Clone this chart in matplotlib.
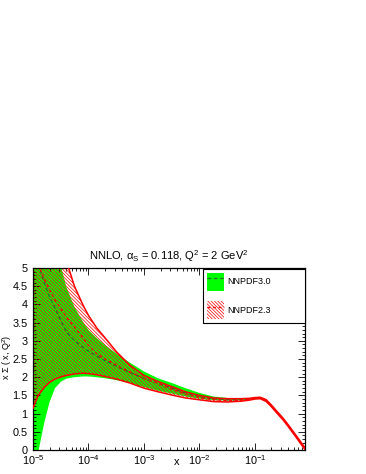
import matplotlib
matplotlib.use("Agg")
import matplotlib.pyplot as plt
from matplotlib.patches import Patch
from matplotlib.lines import Line2D
from matplotlib.ticker import LogLocator, MultipleLocator, LogFormatterSciNotation, NullFormatter

plt.rcParams['font.family'] = ['Liberation Sans', 'DejaVu Sans']
plt.rcParams['mathtext.fontset'] = 'custom'
plt.rcParams['mathtext.rm'] = 'Liberation Sans'
plt.rcParams['mathtext.it'] = 'Liberation Sans:italic'
plt.rcParams['mathtext.bf'] = 'Liberation Sans:bold'
plt.rcParams['hatch.linewidth'] = 0.5
plt.rcParams['hatch.color'] = '#ff0000'

# ---- data ----
x = [1e-5, 1.25e-5, 1.6e-5, 2e-5, 2.5e-5, 3.2e-5, 4e-5, 5.6e-5, 8e-5, 1e-4,
     1.4e-4, 2e-4, 3.2e-4, 5.6e-4, 1e-3, 1.8e-3, 3.2e-3, 5.6e-3, 1e-2, 1.8e-2,
     3.2e-2, 5.6e-2, 8e-2, 0.1, 0.125, 0.16, 0.2, 0.25, 0.32, 0.4, 0.5, 0.63, 0.8]

nn30_hi = [9.5, 8.4, 7.4, 6.5, 5.7, 5.05, 4.48, 3.93, 3.52, 3.30, 3.08, 2.88, 2.65, 2.40,
           2.16, 1.97, 1.84, 1.70, 1.57, 1.47, 1.43, 1.41, 1.42, 1.44, 1.45, 1.38, 1.23,
           1.06, 0.88, 0.69, 0.49, 0.28, 0.06]
nn30_c = [5.6, 5.1, 4.6, 4.2, 3.9, 3.55, 3.25, 3.0, 2.82, 2.72, 2.58, 2.45, 2.30, 2.13,
          1.97, 1.83, 1.70, 1.57, 1.47, 1.41, 1.38, 1.38, 1.40, 1.42, 1.43, 1.36, 1.21,
          1.04, 0.86, 0.67, 0.47, 0.26, 0.04]
nn30_lo = [-0.6, -0.05, 0.75, 1.32, 1.70, 1.88, 1.96, 2.00, 2.02, 2.02, 2.00, 1.97, 1.92,
           1.84, 1.73, 1.63, 1.55, 1.47, 1.41, 1.37, 1.36, 1.37, 1.38, 1.40, 1.41, 1.34,
           1.19, 1.02, 0.84, 0.65, 0.45, 0.24, 0.02]

nn23_hi = [11.5, 10.2, 9.0, 7.9, 6.9, 5.9, 5.2, 4.50, 3.98, 3.70, 3.36, 3.08, 2.70, 2.33,
           2.05, 1.88, 1.74, 1.60, 1.50, 1.43, 1.41, 1.41, 1.42, 1.44, 1.45, 1.385, 1.235,
           1.065, 0.885, 0.695, 0.495, 0.285, 0.065]
nn23_c = [5.7, 5.1, 4.7, 4.4, 4.12, 3.88, 3.65, 3.38, 3.08, 2.88, 2.65, 2.50, 2.33, 2.14,
          1.97, 1.83, 1.67, 1.54, 1.44, 1.38, 1.36, 1.37, 1.39, 1.42, 1.43, 1.36, 1.21,
          1.04, 0.86, 0.67, 0.47, 0.26, 0.04]
nn23_lo = [1.15, 1.50, 1.72, 1.86, 1.95, 2.01, 2.05, 2.09, 2.11, 2.10, 2.07, 2.02, 1.95,
           1.84, 1.70, 1.60, 1.51, 1.43, 1.38, 1.33, 1.32, 1.34, 1.37, 1.40, 1.41, 1.335,
           1.185, 1.015, 0.835, 0.645, 0.445, 0.235, 0.015]

labels = ["NNPDF3.0", "NNPDF2.3"]
title = r"NNLO, α$_\mathregular{S}$ = 0.118, Q$^\mathregular{2}$ = 2 GeV$^\mathregular{2}$"
xlabel = "x"
ylabel = r"x Σ ( x, Q$^\mathregular{2}$)"

GREEN = "#00ff00"
DKGREEN = "#2a6e2a"
RED = "#ff0000"
HATCH = '\\' * 10

fig = plt.figure(figsize=(3.66, 4.74), dpi=100)
ax = fig.add_axes([0.090, 0.0506, 0.743, 0.384])

ax.fill_between(x, nn30_lo, nn30_hi, facecolor=GREEN, edgecolor='none', zorder=1)
ax.fill_between(x, nn23_lo, nn23_hi, facecolor='none', edgecolor=RED, hatch=HATCH,
                linewidth=0, zorder=2)
ax.plot(x, nn30_c, color=DKGREEN, ls=(0, (3, 2)), lw=0.9, zorder=3)
ax.plot(x, nn23_hi, color=RED, lw=1.1, zorder=4)
ax.plot(x, nn23_lo, color=RED, lw=1.1, zorder=4)
ax.plot(x, nn23_c, color=RED, ls=(0, (2, 2)), lw=1.0, zorder=4)

ax.set_xscale('log')
ax.set_xlim(1e-5, 0.8)
ax.set_ylim(0, 5)

ax.xaxis.set_major_locator(LogLocator(base=10, numticks=10))
ax.xaxis.set_minor_locator(LogLocator(base=10, subs=range(2, 10), numticks=20))
ax.xaxis.set_major_formatter(LogFormatterSciNotation())
ax.xaxis.set_minor_formatter(NullFormatter())
ax.yaxis.set_major_locator(MultipleLocator(0.5))
ax.yaxis.set_minor_locator(MultipleLocator(0.1))
ax.yaxis.set_major_formatter(plt.FuncFormatter(lambda v, p: f"{v:g}"))

ax.tick_params(which='both', direction='in', top=True, right=True, width=0.6,
               labelsize=7.8)
ax.tick_params(which='major', length=5)
ax.tick_params(which='minor', length=2.5)
ax.tick_params(axis='x', pad=2)
ax.tick_params(axis='y', pad=4)
for s in ax.spines.values():
    s.set_linewidth(0.9)

ax.set_title(title, fontsize=8, pad=6)
ax.set_xlabel(xlabel, fontsize=8)
ax.xaxis.set_label_coords(0.53, -0.04)
ax.set_ylabel(ylabel, fontsize=6.5)
ax.yaxis.set_label_coords(-0.071, 0.51)

h30 = (Patch(facecolor=GREEN, edgecolor='none'),
       Line2D([], [], color=DKGREEN, ls=(0, (3, 2)), lw=0.9))
h23 = (Patch(facecolor='white', edgecolor=RED, hatch=HATCH, lw=0),
       Line2D([], [], color=RED, ls=(0, (2, 2)), lw=1.0))
leg = ax.legend([h30, h23], labels, loc='upper left',
                bbox_to_anchor=(0.625, 0.0, 0.375, 0.995), mode='expand',
                borderaxespad=0, fontsize=6.5, handlelength=1.9, handleheight=2.7,
                handletextpad=0.4, labelspacing=1.15, borderpad=0.4,
                fancybox=False, frameon=True, edgecolor='black', framealpha=1)
leg.get_frame().set_linewidth(0.8)

fig.savefig("out.png", dpi=100)
